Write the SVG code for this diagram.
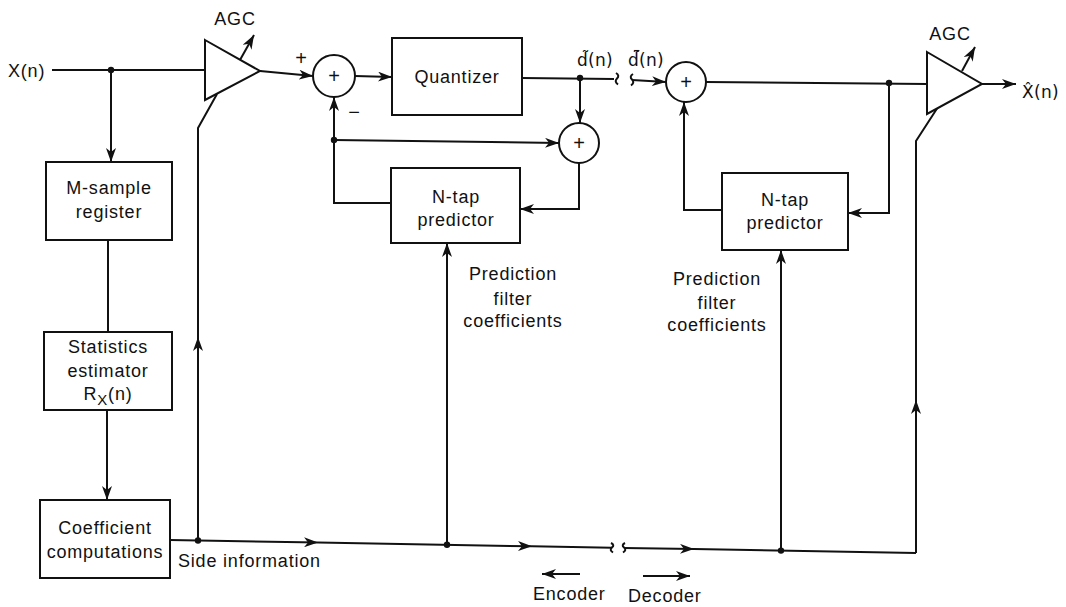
<svg xmlns="http://www.w3.org/2000/svg" width="1066" height="607" viewBox="0 0 1066 607">
<style>
text{font-family:"Liberation Sans",Arial,sans-serif;font-size:18px;fill:#111;letter-spacing:0.8px}
.c{text-anchor:middle}
.box{fill:#fff;stroke:#111;stroke-width:2}
.ln{fill:none;stroke:#111;stroke-width:2}
.ar{fill:none;stroke:#111;stroke-width:2;marker-end:url(#ah)}
.dot{fill:#111}
.pl{font-size:20px;letter-spacing:0}
.dc{font-family:"DejaVu Sans","Liberation Sans",sans-serif;font-size:17px;letter-spacing:0.3px}
</style>
<defs>
<marker id="ah" markerUnits="userSpaceOnUse" markerWidth="15" markerHeight="10" refX="14" refY="5" orient="auto">
<path d="M0,0 L14,5 L0,10 L4,5 z" fill="#111"/>
</marker>
</defs>
<rect width="1066" height="607" fill="#fff"/>

<g id="connectors">
<path class="ln" d="M52,70 L205,70"/>
<path class="ar" d="M111,70 L111,162"/>
<path class="ln" d="M108,240 L108,332"/>
<path class="ar" d="M107,410 L107,500"/>
<path class="ar" d="M170,540 L318,542.6"/>
<path class="ar" d="M318,542.6 L532,546.3"/>
<path class="ln" d="M532,546.3 L612,547.7"/>
<path class="ln" d="M611,543 q4,2 1,4.5 q-3,2.5 1,5"/>
<path class="ln" d="M625,543 q-4,2 -1,4.5 q3,2.5 -1,5"/>
<path class="ar" d="M624,548 L694,549.1"/>
<path class="ln" d="M694,549.1 L916,553"/>
<path class="ar" d="M198,540.5 L198,337"/>
<path class="ln" d="M198,337 L198,128 L217,94"/>
<path class="ar" d="M916,553 L916,400"/>
<path class="ln" d="M916,400 L916,141 L938,107"/>
<path class="ar" d="M447,544.8 L447,243"/>
<path class="ar" d="M781,550.6 L781,250"/>
<path class="ar" d="M260,71 L313,76"/>
<path class="ar" d="M355,76 L392,77"/>
<path class="ln" d="M522,78 L614,79"/>
<path class="ln" d="M616,73 q4,2.5 1,5.5 q-3,3 1,6"/>
<path class="ln" d="M633,74 q-4,2.5 -1,5.5 q3,3 -1,6"/>
<path class="ar" d="M632,80 L666,82"/>
<path class="ar" d="M580,78 L580,123"/>
<path class="ln" d="M391,203 L334,203 L334,140"/>
<path class="ar" d="M334,140 L334,97"/>
<path class="ar" d="M334,140 L559,143"/>
<path class="ln" d="M579,163 L579,209 L540,209"/>
<path class="ar" d="M540,209 L520,209"/>
<path class="ln" d="M706,82 L927,84"/>
<path class="ln" d="M889,83 L889,213 L868,213"/>
<path class="ar" d="M868,213 L848,213"/>
<path class="ln" d="M722,210 L684,210 L684,130"/>
<path class="ar" d="M684,130 L684,102"/>
<path class="ar" d="M982,84 L1016,84"/>
<path class="ar" d="M240,60 L254,35"/>
<path class="ar" d="M962,71 L975,47"/>
<path class="ar" d="M580,574 L542,574"/>
<path class="ar" d="M643,576 L690,576"/>
<circle class="dot" cx="111" cy="70" r="3.2"/>
<circle class="dot" cx="198" cy="540.5" r="3.2"/>
<circle class="dot" cx="447" cy="544.8" r="3.2"/>
<circle class="dot" cx="781" cy="550.6" r="3.2"/>
<circle class="dot" cx="580" cy="78" r="3.2"/>
<circle class="dot" cx="334" cy="140" r="3.2"/>
<circle class="dot" cx="889" cy="83" r="3.2"/>
</g>

<g id="input"><text x="8" y="77">X(n)</text></g>

<g id="msample">
<rect class="box" x="46" y="162" width="126" height="78"/>
<text class="c" x="109" y="194">M-sample</text>
<text class="c" x="109" y="218">register</text>
</g>

<g id="stats">
<rect class="box" x="44" y="332" width="128" height="78"/>
<text class="c" x="108" y="353">Statistics</text>
<text class="c" x="108" y="377">estimator</text>
<text class="c" x="108" y="400">R<tspan font-size="15" dy="5">X</tspan><tspan dy="-5">(n)</tspan></text>
</g>

<g id="coef">
<rect class="box" x="40" y="500" width="130" height="78"/>
<text class="c" x="105" y="534">Coefficient</text>
<text class="c" x="105" y="558">computations</text>
</g>

<g id="agc1">
<polygon class="box" points="205,40 260,71 205,100"/>
<text class="c" x="235" y="25">AGC</text>
</g>

<g id="sum1">
<circle class="box" cx="334" cy="76" r="21"/>
<text class="c pl" x="334" y="83">+</text>
<text class="c pl" x="301" y="65">+</text>
<text class="c pl" x="354" y="119">−</text>
</g>

<g id="quantizer">
<rect class="box" x="392" y="38" width="130" height="77"/>
<text class="c" x="457" y="83">Quantizer</text>
</g>

<g id="dlabel">
<text class="dc" x="577" y="66">d̃(n)</text>
</g>

<g id="sum2">
<circle class="box" cx="579" cy="143" r="20"/>
<text class="c pl" x="579" y="150">+</text>
</g>

<g id="pred1">
<rect class="box" x="391" y="168" width="129" height="75"/>
<text class="c" x="456" y="203">N-tap</text>
<text class="c" x="456" y="226">predictor</text>
</g>

<g id="pfc1">
<text class="c" x="513" y="280">Prediction</text>
<text class="c" x="513" y="305">filter</text>
<text class="c" x="513" y="327">coefficients</text>
</g>

<g id="dlabel2">
<text class="dc" x="628" y="66">d̃̄(n)</text>
</g>

<g id="sum3">
<circle class="box" cx="686" cy="82" r="20"/>
<text class="c pl" x="686" y="89">+</text>
</g>

<g id="pred2">
<rect class="box" x="722" y="173" width="126" height="77"/>
<text class="c" x="785" y="206">N-tap</text>
<text class="c" x="785" y="229">predictor</text>
</g>

<g id="pfc2">
<text class="c" x="717" y="285">Prediction</text>
<text class="c" x="717" y="309">filter</text>
<text class="c" x="717" y="331">coefficients</text>
</g>

<g id="agc2">
<polygon class="box" points="927,52 982,84 927,114"/>
<text class="c" x="950" y="40">AGC</text>
</g>

<g id="output">
<text class="dc" x="1022" y="98">X̂(n)</text>
</g>

<g id="labels">
<text x="178" y="567">Side information</text>
<text x="533" y="600">Encoder</text>
<text x="628" y="602">Decoder</text>
</g>
</svg>
